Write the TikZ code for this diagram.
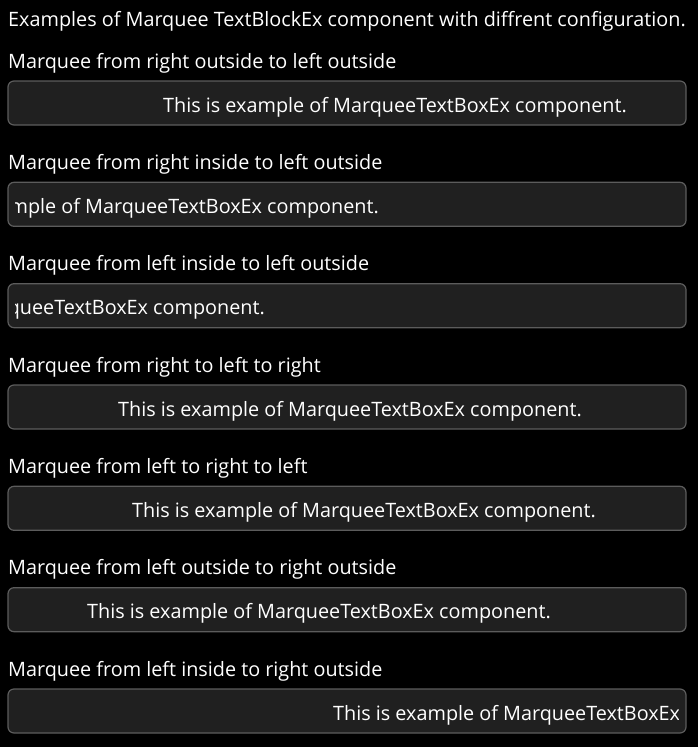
\documentclass[tikz,border=0pt]{standalone}
\usepackage{fontspec}
\setmainfont{Open Sans}
\definecolor{panelbg}{HTML}{000000}
\definecolor{boxfill}{HTML}{202020}
\definecolor{boxline}{HTML}{5C5C5C}
\begin{document}
\begin{tikzpicture}[x=1pt, y=-1pt,
    caption/.style={text=white, anchor=base west, inner sep=0pt, font=\fontsize{19.8}{24}\selectfont},
    marq/.style={draw=boxline, fill=boxfill, rounded corners=6pt, line width=1.2pt,
      minimum width=678pt, minimum height=44pt, inner sep=0pt},
    msg/.style={text=white, anchor=base west, inner sep=0pt, font=\fontsize{19.8}{24}\selectfont}]
    \fill[panelbg] (0,0) rectangle (698,747);
    \useasboundingbox (0,0) rectangle (698,747);
    \node[caption] (title) at (8,26) {Examples of Marquee TextBlockEx component with diffrent configuration.};
    % right outside -> left outside
    \node[caption] (lblA) at (8,68) {Marquee from right outside to left outside};
    \node[marq] (boxA) at (347,103) {};
    \begin{scope}
      \clip ([xshift=8pt]boxA.south west) rectangle ([xshift=-8pt]boxA.north east);
      \node[msg] (msgA) at (163,112) {This is example of MarqueeTextBoxEx component.};
    \end{scope}
    % right inside -> left outside
    \node[caption] (lblB) at (8,169.3) {Marquee from right inside to left outside};
    \node[marq] (boxB) at (347,204.3) {};
    \begin{scope}
      \clip ([xshift=8pt]boxB.south west) rectangle ([xshift=-8pt]boxB.north east);
      \node[msg] (msgB) at (-85,213.3) {This is example of MarqueeTextBoxEx component.};
    \end{scope}
    % left inside -> left outside
    \node[caption] (lblC) at (8,270.7) {Marquee from left inside to left outside};
    \node[marq] (boxC) at (347,305.7) {};
    \begin{scope}
      \clip ([xshift=8pt]boxC.south west) rectangle ([xshift=-8pt]boxC.north east);
      \node[msg] (msgC) at (-199,314.7) {This is example of MarqueeTextBoxEx component.};
    \end{scope}
    % right -> left -> right
    \node[caption] (lblD) at (8,372) {Marquee from right to left to right};
    \node[marq] (boxD) at (347,407) {};
    \begin{scope}
      \clip ([xshift=8pt]boxD.south west) rectangle ([xshift=-8pt]boxD.north east);
      \node[msg] (msgD) at (118,416) {This is example of MarqueeTextBoxEx component.};
    \end{scope}
    % left -> right -> left
    \node[caption] (lblE) at (8,473.3) {Marquee from left to right to left};
    \node[marq] (boxE) at (347,508.3) {};
    \begin{scope}
      \clip ([xshift=8pt]boxE.south west) rectangle ([xshift=-8pt]boxE.north east);
      \node[msg] (msgE) at (132,517.3) {This is example of MarqueeTextBoxEx component.};
    \end{scope}
    % left outside -> right outside
    \node[caption] (lblF) at (8,574.7) {Marquee from left outside to right outside};
    \node[marq] (boxF) at (347,609.7) {};
    \begin{scope}
      \clip ([xshift=8pt]boxF.south west) rectangle ([xshift=-8pt]boxF.north east);
      \node[msg] (msgF) at (87,618.7) {This is example of MarqueeTextBoxEx component.};
    \end{scope}
    % left inside -> right outside
    \node[caption] (lblG) at (8,676) {Marquee from left inside to right outside};
    \node[marq] (boxG) at (347,711) {};
    \begin{scope}
      \clip ([xshift=8pt]boxG.south west) rectangle ([xshift=-8pt]boxG.north east);
      \node[msg] (msgG) at (333,720) {This is example of MarqueeTextBoxEx component.};
    \end{scope}
\end{tikzpicture}
\end{document}
